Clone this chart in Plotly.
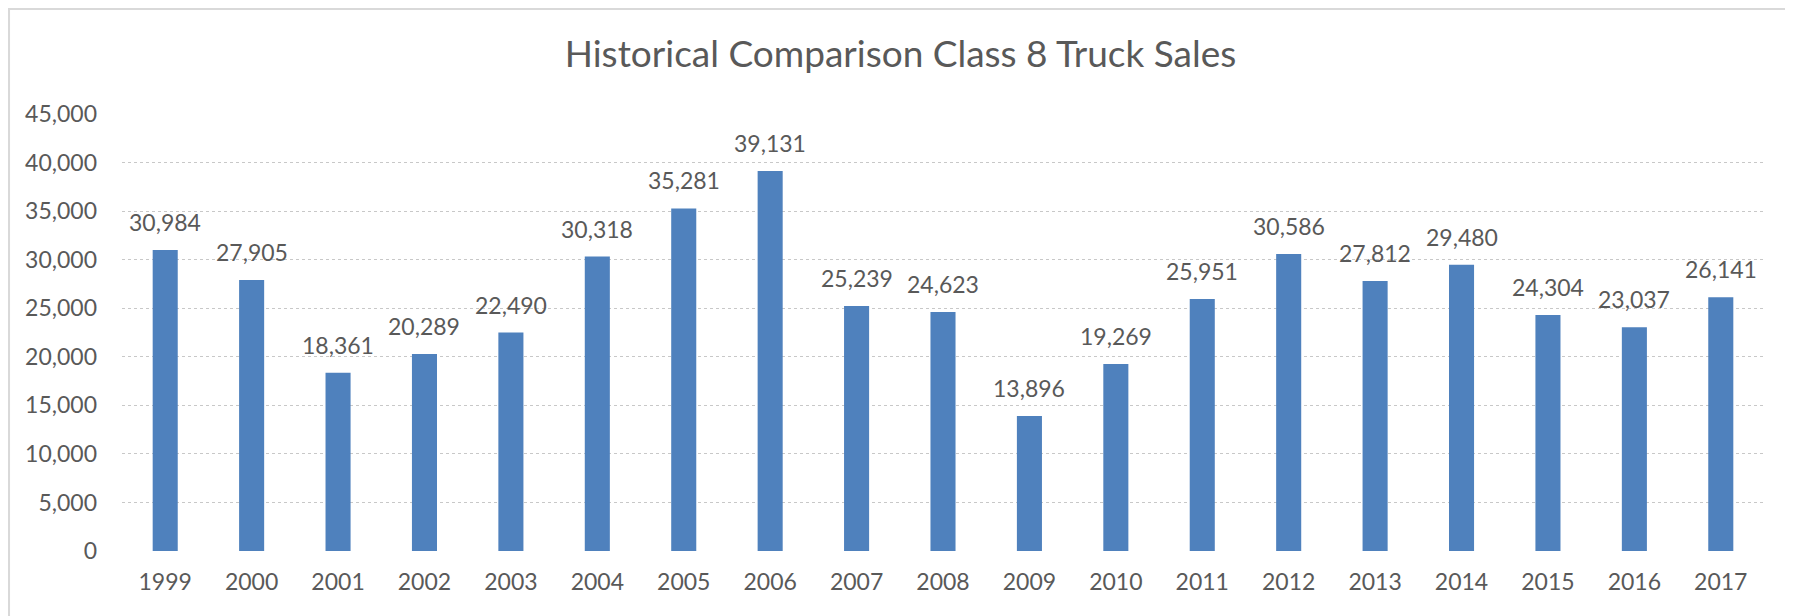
import plotly.graph_objects as go

years = ["1999", "2000", "2001", "2002", "2003", "2004", "2005", "2006", "2007", "2008",
         "2009", "2010", "2011", "2012", "2013", "2014", "2015", "2016", "2017"]
sales = [30984, 27905, 18361, 20289, 22490, 30318, 35281, 39131, 25239, 24623,
         13896, 19269, 25951, 30586, 27812, 29480, 24304, 23037, 26141]
title_text = "Historical Comparison Class 8 Truck Sales"
y_ticks = [0, 5000, 10000, 15000, 20000, 25000, 30000, 35000, 40000, 45000]

FONT = "Lato"
GRAY = "#595959"

# page body has an 8px margin, so the figure is sized to fit the window
W, H = 1785, 608

fig = go.Figure()
fig.add_trace(go.Bar(
    x=years, y=sales,
    marker=dict(color="#4F81BD", line=dict(width=0)),
    hoverinfo="x+y",
))

# value labels above bars (category index positions on the category axis)
annotations = [
    dict(x=i, y=v, xref="x", yref="y", text=f"{v:,}", showarrow=False,
         yanchor="bottom", yshift=12, font=dict(family=FONT, size=23, color=GRAY))
    for i, v in enumerate(sales)
]

fig.update_layout(
    width=W, height=H,
    margin=dict(l=114, r=29, t=106, b=65),
    paper_bgcolor="white", plot_bgcolor="white",
    bargap=0.71,
    showlegend=False,
    title=dict(text=title_text, x=0.5, xanchor="center", xref="container",
               y=1 - 46 / H, yanchor="middle", yref="container",
               font=dict(family=FONT, size=37, color=GRAY)),
    font=dict(family=FONT, size=23, color=GRAY),
    annotations=annotations,
    shapes=[dict(type="rect", xref="paper", yref="paper",
                 x0=-0.0688, x1=1.0171, y0=-0.158, y1=1.2403,
                 line=dict(color="#D9D9D9", width=2), layer="below")],
)
fig.update_xaxes(
    type="category", categoryorder="array", categoryarray=years,
    range=[-0.5, len(years) - 0.5],
    showgrid=False, showline=False, zeroline=False,
    tickfont=dict(family=FONT, size=23, color=GRAY),
    ticklabelstandoff=15,
)
fig.update_yaxes(
    range=[0, 45000], tickvals=y_ticks, tickformat=",d",
    showgrid=True, gridcolor="#C8C8C8", griddash="dot", gridwidth=1,
    zeroline=False, showline=False,
    tickfont=dict(family=FONT, size=23, color=GRAY),
    ticklabelstandoff=24,
)

fig.write_html("out.html")
